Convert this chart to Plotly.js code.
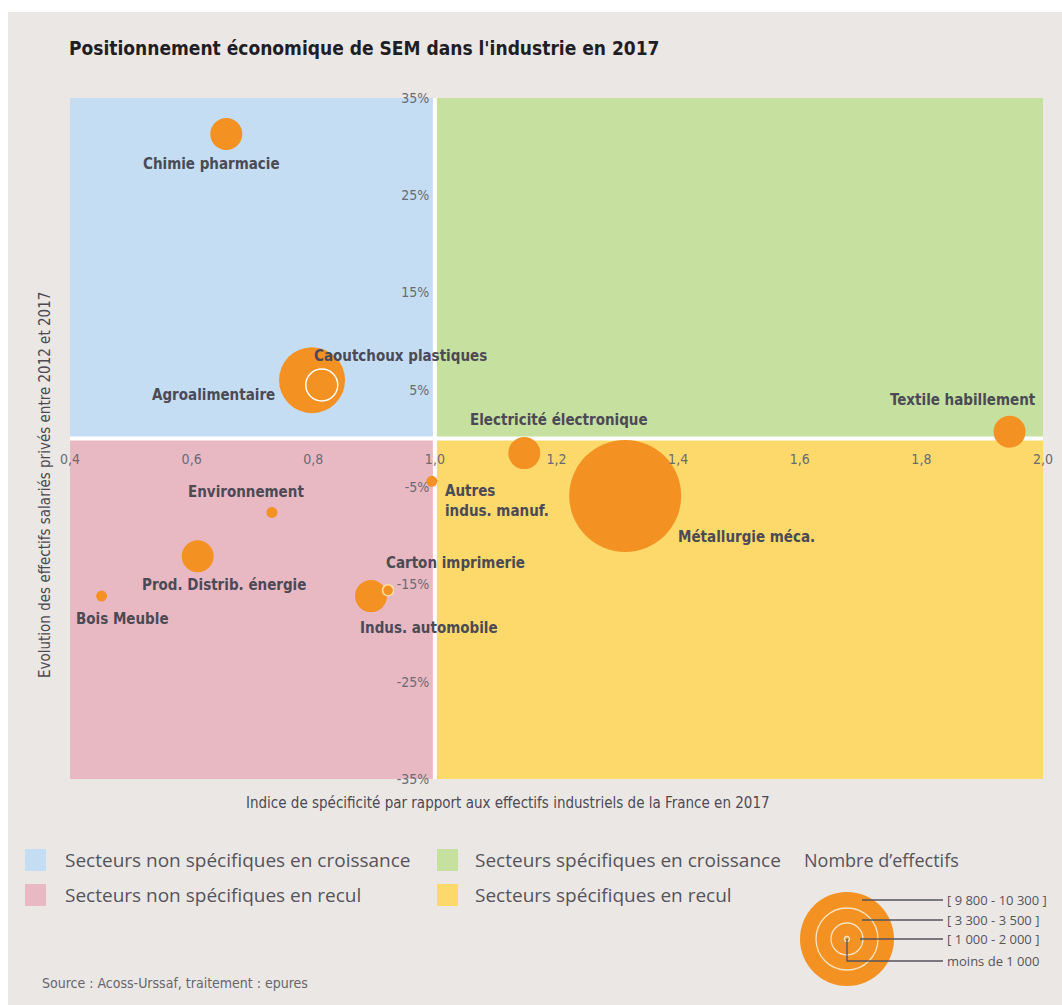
<!DOCTYPE html>
<html>
<head>
<meta charset="utf-8">
<script src="https://cdn.plot.ly/plotly-3.0.1.min.js"></script>
<style>
  body { margin: 0; background: #ffffff; }
  #sem-chart { width: 1062px; height: 1005px; }
</style>
</head>
<body>
<div id="sem-chart"></div>
<script>
// Secteurs industriels
var secteurs = ["Chimie pharmacie", "Agroalimentaire", "Caoutchoux plastiques", "Electricité électronique",
  "Textile habillement", "Autres<br>indus. manuf.", "Métallurgie méca.", "Environnement",
  "Prod. Distrib. énergie", "Bois Meuble", "Indus. automobile", "Carton imprimerie"];
// Indice de spécificité (x)
var specificite = [0.657, 0.798, 0.814, 1.147, 1.945, 0.995, 1.313, 0.732, 0.61, 0.452, 0.895, 0.923];
// Evolution des effectifs 2012-2017 en % (y)
var evolution = [31.3, 6.0, 5.5, -1.5, 0.7, -4.4, -5.9, -7.6, -12.1, -16.2, -16.2, -15.6];
// Nombre d'effectifs (estimé d'après la classe)
var effectifs = [1500, 3400, 1500, 1400, 1400, 600, 10000, 700, 1500, 600, 1500, 700];

var xTicks = [0.4, 0.6, 0.8, 1.0, 1.2, 1.4, 1.6, 1.8, 2.0];
var yTicks = [35, 25, 15, 5, -5, -15, -25, -35];

var legendQuadrants = ["Secteurs non spécifiques en croissance", "Secteurs non spécifiques en recul",
  "Secteurs spécifiques en croissance", "Secteurs spécifiques en recul"];
var legendClasses = ["[ 9 800 - 10 300 ]", "[ 3 300 - 3 500 ]", "[ 1 000 - 2 000 ]", "moins de 1 000"];

// colours
var orange = "#f39123";
var textColor = "#4b4a55";
var quadColors = ["#c4ddf2", "#e9b9c3", "#c6e09f", "#fdd96c"];
var condensed = "Liberation Sans Narrow, DejaVu Sans Condensed, sans-serif";
var light = "Open Sans, Noto Sans, sans-serif";

// diameter by class of effectifs
function diam(n) {
  if (n >= 9800) return 112;
  if (n >= 3300) return 66;
  if (n >= 1000) return 32;
  return 11;
}

// outline only where a bubble sits on top of another one
var outline = ["rgba(0,0,0,0)", "rgba(0,0,0,0)", "#ffffff", "rgba(0,0,0,0)", "rgba(0,0,0,0)", "rgba(0,0,0,0)",
  "rgba(0,0,0,0)", "rgba(0,0,0,0)", "rgba(0,0,0,0)", "rgba(0,0,0,0)", "rgba(0,0,0,0)", "#fbe3a6"];

// label offsets in pixels from the bubble centre
var labelDx = [-15, -99, 79, 35, -47, 11, 121, -26, 26, 21, 58, 67];
var labelDy = [-30, -15, 29, 33, 32, -20, -41, 20, -29, -23, -32, 27];
var labelAnchor = ["center", "center", "center", "center", "center", "left", "center", "center", "center", "center", "center", "center"];

var trace = {
  x: specificite,
  y: evolution,
  mode: "markers",
  type: "scatter",
  hoverinfo: "skip",
  marker: {
    color: orange,
    opacity: 1,
    size: effectifs.map(diam),
    sizemode: "diameter",
    line: { color: outline, width: 1.5 }
  }
};

// plot box in pixels
var L = 70, R = 1043, T = 98, B = 779;
function px(x) { return (x - L) / (R - L); }
function py(y) { return (B - y) / (B - T); }

var shapes = [
  // grey panel
  { type: "rect", xref: "paper", yref: "paper", x0: px(8), x1: px(1070), y0: py(12), y1: py(1010),
    fillcolor: "#ebe7e4", line: { width: 0 }, layer: "below" },
  // quadrants
  { type: "rect", x0: 0.4, x1: 1.0, y0: 0, y1: 35, fillcolor: quadColors[0], line: { width: 0 }, layer: "below" },
  { type: "rect", x0: 0.4, x1: 1.0, y0: -35, y1: 0, fillcolor: quadColors[1], line: { width: 0 }, layer: "below" },
  { type: "rect", x0: 1.0, x1: 2.0, y0: 0, y1: 35, fillcolor: quadColors[2], line: { width: 0 }, layer: "below" },
  { type: "rect", x0: 1.0, x1: 2.0, y0: -35, y1: 0, fillcolor: quadColors[3], line: { width: 0 }, layer: "below" },
  { type: "line", x0: 1.0, x1: 1.0, y0: -35, y1: 35, line: { color: "#ffffff", width: 4 }, layer: "below" },
  { type: "line", x0: 0.4, x1: 2.0, y0: 0, y1: 0, line: { color: "#ffffff", width: 4 }, layer: "below" }
];

// legend squares
var sq = [[25, 849], [25, 884], [437, 849], [437, 884]];
sq.forEach(function (s, i) {
  shapes.push({ type: "rect", xref: "paper", yref: "paper", x0: px(s[0]), x1: px(s[0] + 21),
    y0: py(s[1]), y1: py(s[1] + 22), fillcolor: quadColors[i], line: { width: 0 } });
});

// nested circles legend
var cx = 847, cy = 939;
[[47, orange, "rgba(0,0,0,0)"], [31, "rgba(0,0,0,0)", "#fbe3c0"], [16, "rgba(0,0,0,0)", "#fbe3c0"], [2.5, orange, "#fbe3c0"]]
  .forEach(function (c) {
    shapes.push({ type: "circle", xref: "paper", yref: "paper", x0: px(cx - c[0]), x1: px(cx + c[0]),
      y0: py(cy - c[0]), y1: py(cy + c[0]), fillcolor: c[1], line: { color: c[2], width: 1.3 } });
  });
var leaderY = [900, 920, 939];
var leaderX = [862, 862, 860];
leaderY.forEach(function (ly, i) {
  shapes.push({ type: "line", xref: "paper", yref: "paper", x0: px(leaderX[i]), x1: px(943),
    y0: py(ly), y1: py(ly), line: { color: "#55545c", width: 1.3 } });
});
shapes.push({ type: "path", xref: "paper", yref: "paper",
  path: "M" + px(cx) + "," + py(cy) + " L" + px(cx) + "," + py(961) + " L" + px(943) + "," + py(961),
  line: { color: "#55545c", width: 1.3 } });

var annotations = [];

// bubble labels
secteurs.forEach(function (name, i) {
  annotations.push({
    x: specificite[i], y: evolution[i], text: "<b>" + name + "</b>", showarrow: false,
    xshift: labelDx[i], yshift: labelDy[i], xanchor: labelAnchor[i], align: "left",
    font: { family: condensed, size: 15, color: textColor }
  });
});

// title, axis titles, source
annotations.push({ xref: "paper", yref: "paper", x: px(67), y: py(48), xanchor: "left", yanchor: "middle",
  text: "<b>Positionnement économique de SEM dans l'industrie en 2017</b>", showarrow: false,
  font: { family: condensed, size: 19, color: "#1f1e24" } });
annotations.push({ xref: "paper", yref: "paper", x: px(508), y: py(803), xanchor: "center", yanchor: "middle",
  text: "Indice de spécificité par rapport aux effectifs industriels de la France en 2017", showarrow: false,
  font: { family: condensed, size: 15, color: textColor } });
annotations.push({ xref: "paper", yref: "paper", x: px(45), y: py(485), xanchor: "center", yanchor: "middle",
  textangle: -90, text: "Evolution des effectifs salariés privés entre 2012 et 2017", showarrow: false,
  font: { family: condensed, size: 15, color: textColor } });
annotations.push({ xref: "paper", yref: "paper", x: px(40), y: py(983), xanchor: "left", yanchor: "middle",
  text: "Source : Acoss-Urssaf, traitement : epures", showarrow: false,
  font: { family: condensed, size: 14, color: "#66656d" } });

// quadrant legend texts
var legPos = [[63, 860], [63, 895], [473, 860], [473, 895]];
legendQuadrants.forEach(function (t, i) {
  annotations.push({ xref: "paper", yref: "paper", x: px(legPos[i][0]), y: py(legPos[i][1]),
    xanchor: "left", yanchor: "middle", text: t, showarrow: false,
    font: { family: light, size: 19, color: "#55545c" } });
});
annotations.push({ xref: "paper", yref: "paper", x: px(802), y: py(860), xanchor: "left", yanchor: "middle",
  text: "Nombre d’effectifs", showarrow: false, font: { family: light, size: 18, color: "#55545c" } });
var classY = [900, 920, 939, 961];
legendClasses.forEach(function (t, i) {
  annotations.push({ xref: "paper", yref: "paper", x: px(945), y: py(classY[i]), xanchor: "left", yanchor: "middle",
    text: t, showarrow: false, font: { family: light, size: 13, color: "#55545c" } });
});

var layout = {
  width: 1062,
  height: 1005,
  margin: { l: L, r: 1062 - R, t: T, b: 1005 - B },
  paper_bgcolor: "#ffffff",
  plot_bgcolor: "rgba(0,0,0,0)",
  showlegend: false,
  xaxis: {
    range: [0.4, 2.0],
    anchor: "free",
    position: py(438),
    tickvals: xTicks,
    ticktext: xTicks.map(function (v) { return v.toFixed(1).replace(".", ","); }),
    ticks: "outside",
    ticklen: 8,
    tickcolor: "rgba(0,0,0,0)",
    showgrid: false,
    zeroline: false,
    showline: false,
    tickfont: { family: condensed, size: 14, color: "#6b6a73" }
  },
  yaxis: {
    range: [-35, 35],
    anchor: "free",
    position: px(435),
    tickvals: yTicks,
    ticktext: yTicks.map(function (v) { return v + "%"; }),
    ticks: "outside",
    ticklen: 3,
    tickcolor: "rgba(0,0,0,0)",
    showgrid: false,
    zeroline: false,
    showline: false,
    tickfont: { family: condensed, size: 14, color: "#6b6a73" }
  },
  shapes: shapes,
  annotations: annotations
};

Plotly.newPlot("sem-chart", [trace], layout, { displayModeBar: false, staticPlot: true });
</script>
</body>
</html>
